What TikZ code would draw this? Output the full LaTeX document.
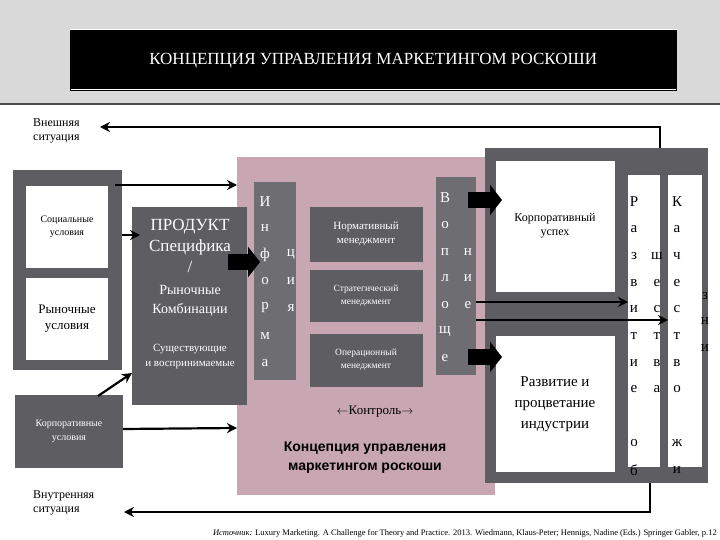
\documentclass[tikz,border=0pt]{standalone}
\usepackage{fontspec}
\setmainfont{Liberation Serif}
\newfontfamily\sansb{Liberation Sans}
\usetikzlibrary{arrows.meta}
\definecolor{dk}{HTML}{5E5D62}
\definecolor{pk}{HTML}{C8A6B2}
\definecolor{hd}{HTML}{D9D9D9}
\tikzset{
 dbox/.style={fill=dk,draw=none},
 wbox/.style={fill=white,draw=none},
 wt/.style={text=white,font=\fontsize{11}{14}\selectfont,align=center},
 bt/.style={text=black,font=\fontsize{12}{14}\selectfont,align=center},
 arr/.style={line width=2.2pt,-{Stealth[length=10pt,width=10pt]}},
 big/.style={line width=16pt,-{Triangle[length=12pt,width=30pt]}},
 let/.style={font=\fontsize{15}{16}\selectfont,inner sep=0pt}
}
\begin{document}
\begin{tikzpicture}[x=1pt,y=-1pt]
\useasboundingbox (0,0) rectangle (720,540);
\fill[white] (0,0) rectangle (720,540);
\fill[hd] (0,0) rectangle (720,104);
\draw[line width=1.5pt,black!70] (0,104) -- (720,104);
\node[fill=black,draw=white,double=black,minimum width=606pt,minimum height=60pt,anchor=north west,text=white,font=\fontsize{17}{19}\selectfont] (title) at (70,30) {КОНЦЕПЦИЯ УПРАВЛЕНИЯ МАРКЕТИНГОМ РОСКОШИ};
% external
\node[bt,align=left,anchor=north west,inner sep=0pt] (ext) at (33,118) {Внешняя\\ситуация};
\node[bt,align=left,anchor=north west,inner sep=0pt] (int) at (33,490) {Внутренняя\\ситуация};
% pink
\fill[pk] (237,157) rectangle (495,495);
\node[inner sep=0pt,minimum width=258pt,minimum height=338pt,anchor=north west] (pink) at (237,157) {};
% right panel
\fill[dk] (485,148) rectangle (708,483);
\node[inner sep=0pt,minimum width=223pt,minimum height=335pt,anchor=north west] (right) at (485,148) {};
\fill[wbox] (496,161) rectangle (615,292);
\node[bt] (succ) at (555,226) {Корпоративный\\успех};
\fill[wbox] (496,336) rectangle (615,472);
\node[bt,font=\fontsize{15}{21}\selectfont] (dev) at (555,404) {Развитие и\\процветание\\индустрии};
\fill[wbox] (628,175) rectangle (660,467);
\fill[wbox] (668,175) rectangle (702,467);
\coordinate (s1) at (628,302);
\coordinate (s2) at (668,320);
\foreach \l/\y in {Р/202,а/229,з/256,в/283,и/309,т/336,и/363,е/389,о/443,б/470} \node[let] at (634,\y) {\l};
\foreach \l/\y in {ш/256,е/283,с/309,т/336,в/363,а/389} \node[let] at (657,\y) {\l};
\foreach \l/\y in {К/202,а/229,ч/256,е/283,с/309,т/336,в/363,о/389,ж/443,и/470} \node[let] at (677,\y) {\l};
\foreach \l/\y in {з/296,н/321,и/348} \node[let] at (705,\y) {\l};
% left panel
\fill[dk] (13,170) rectangle (122,370);
\fill[wbox] (26,186) rectangle (108,268);
\node[bt,font=\fontsize{10}{13}\selectfont] (soc) at (67,227) {Социальные\\условия};
\fill[wbox] (26,278) rectangle (108,360);
\node[bt,font=\fontsize{13}{16}\selectfont] (mkt) at (67,319) {Рыночные\\условия};
\fill[dk] (15,395) rectangle (123,468);
\node[wt,font=\fontsize{10}{14}\selectfont] (corp) at (69,431) {Корпоративные\\условия};
% product
\fill[dk] (132,207) rectangle (247,405);
\node[inner sep=0pt,minimum width=115pt,minimum height=198pt,anchor=north west] (prod) at (132,207) {};
\node[wt,font=\fontsize{17}{21}\selectfont,anchor=north] (pt) at (190,216) {ПРОДУКТ\\Специфика\\/};
\node[wt,font=\fontsize{14}{19}\selectfont] (pt2) at (190,301) {Рыночные\\Комбинации};
\node[wt,font=\fontsize{11}{15}\selectfont] (pt3) at (190,357) {Существующие\\и воспринимаемые};
% information bar
\fill[dk!90] (254,182) rectangle (296,380);
\node[inner sep=0pt,minimum width=42pt,minimum height=198pt,anchor=north west] (info) at (254,182) {};
\foreach \l/\y in {И/202,н/228,ф/255,о/281,р/308,м/336,а/363} \node[let,text=white] at (265,\y) {\l};
\foreach \l/\y in {ц/255,и/281,я/308} \node[let,text=white] at (291,\y) {\l};
% management
\fill[dk] (310,207) rectangle (423,262);
\node[wt] (norm) at (366,234) {Нормативный\\менеджмент};
\fill[dk] (310,270) rectangle (423,322);
\node[wt,font=\fontsize{9.5}{13}\selectfont] (str) at (366,296) {Стратегический\\менеджмент};
\fill[dk] (310,334) rectangle (423,387);
\node[wt,font=\fontsize{9.5}{13}\selectfont] (op) at (366,360) {Операционный\\менеджмент};
\node[bt,font=\fontsize{13}{15}\selectfont] (ctrl) at (375,412) {$\leftarrow$Контроль$\rightarrow$};
\node[bt,font=\sansb\bfseries\fontsize{14}{19}\selectfont] (conc) at (365,458) {Концепция управления\\маркетингом роскоши};
% opportunities bar
\fill[dk!90] (436,177) rectangle (476,375);
\node[inner sep=0pt,minimum width=40pt,minimum height=198pt,anchor=north west] (opp) at (436,177) {};
\foreach \l/\y in {В/198,о/225,п/252,л/278,о/305,щ/332,е/358} \node[let,text=white] at (445,\y) {\l};
\foreach \l/\y in {н/252,и/278,е/305} \node[let,text=white] at (468,\y) {\l};
% connectors
\coordinate (ea) at (100,127);
\coordinate (eb) at (660,127);
\draw[arr] (660,148) -- (eb) -- (ea);
\draw[arr] (650,483) -- (650,512) -- (124,512);
\draw[arr] (115,185) -- (237,185);
\draw[arr] (122,235) -- (140,235);
\draw[arr] (98,396) -- (132,373);
\draw[arr] (123,429) -- (237,428);
\draw[big] (228,262) -- (260,262);
\draw[big] (468,200) -- (502,200);
\draw[big] (468,357) -- (502,357);
\draw[arr] (476,302) -- (s1);
\draw[arr] (476,320) -- (s2);
\node[anchor=south east,inner sep=1pt,font=\fontsize{8.5}{9}\selectfont] (src) at (718,539) {\textit{Источник:} Luxury Marketing. A Challenge for Theory and Practice. 2013. Wiedmann, Klaus-Peter; Hennigs, Nadine (Eds.) Springer Gabler, p.12};
\end{tikzpicture}
\end{document}
